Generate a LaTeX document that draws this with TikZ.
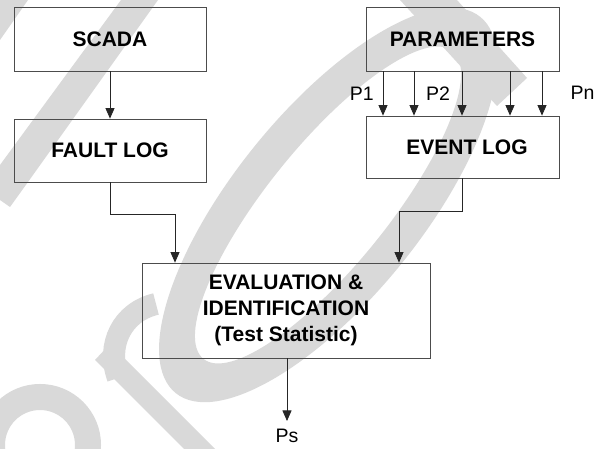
\documentclass[tikz,border=0pt]{standalone}
\usepackage{fontspec}
\setmainfont{Liberation Sans}
\usetikzlibrary{arrows.meta}
\tikzset{
  box/.style={draw=black!70, line width=0.8pt, inner sep=0pt, align=center,
    font=\bfseries\fontsize{21}{26}\selectfont},
  arr/.style={-{Triangle[width=9pt,length=10.5pt]}, line width=0.8pt, draw=black!85},
  lbl/.style={inner sep=0pt, font=\fontsize{19.5}{23}\selectfont},
  wm/.style={fill=black!15},
  wmline/.style={draw=black!15}
}
\begin{document}
\begin{tikzpicture}[x=1pt,y=-1pt]
\useasboundingbox (0,0) rectangle (614,449);
\fill[white] (0,0) rectangle (614,449);
% watermark
\begin{scope}
\clip (0,0) rectangle (614,449);
\fill[wm] (0,0) -- (28,0) -- (0,40) -- cycle;
\fill[wm] (121,0) -- (158,0) -- (28,182) -- (10,207) -- (0,200) -- (0,165) -- cycle;
\begin{scope}[shift={(328,205)}, rotate=51]
\fill[wm, even odd rule] (0,0) ellipse [x radius=242, y radius=94] (0,0) ellipse [x radius=198, y radius=60];
\end{scope}
\fill[wm] (400,0) -- (457,0) -- (527,78) -- (497,106) -- cycle;
\fill[wm] (95,360) -- (110,344) -- (225,459) -- (207,472) -- cycle;
\draw[wmline, line width=22pt] (118,378) .. controls (106,345) and (122,312) .. (156,304);
\draw[wmline, line width=26pt] (40,445) circle [radius=48];
\end{scope}
% boxes
\node[box, minimum width=192pt, minimum height=64pt] (scada) at (110,39) {SCADA};
\node[box, minimum width=192pt, minimum height=63pt] (fault) at (110,150.5) {FAULT LOG};
\node[box, minimum width=193pt, minimum height=64pt] (param) at (462.5,39) {PARAMETERS};
\node[box, minimum width=193pt, minimum height=62pt] (event) at (462.5,147) {\hspace*{9pt}\raisebox{-3.5pt}{EVENT LOG}};
\node[box, minimum width=288pt, minimum height=95pt] (eval) at (286,310.5) {EVALUATION \&\\IDENTIFICATION\\(Test Statistic)};
% labels
\node[lbl] (p1) at (361.7,93.7) {P1};
\node[lbl] (p2) at (438,93.7) {P2};
\node[lbl] (pn) at (582.5,92.5) {Pn};
\node[lbl] (ps) at (287,436) {Ps};
% connectors
\draw[arr] (scada) -- (fault);
\coordinate (fj) at (175,214);
\draw[arr] (fault.south) |- (fj) -- (fj |- eval.north);
\coordinate (ej) at (399,211);
\draw[arr] (event.south) |- (ej) -- (ej |- eval.north);
\foreach \i in {383,414,462,510,542}{
  \coordinate (c\i) at (\i,0);
  \draw[arr] (param.south -| c\i) -- (event.north -| c\i);
}
\coordinate (psend) at (287,421);
\draw[arr] (eval.south -| psend) -- (psend);
\end{tikzpicture}
\end{document}
